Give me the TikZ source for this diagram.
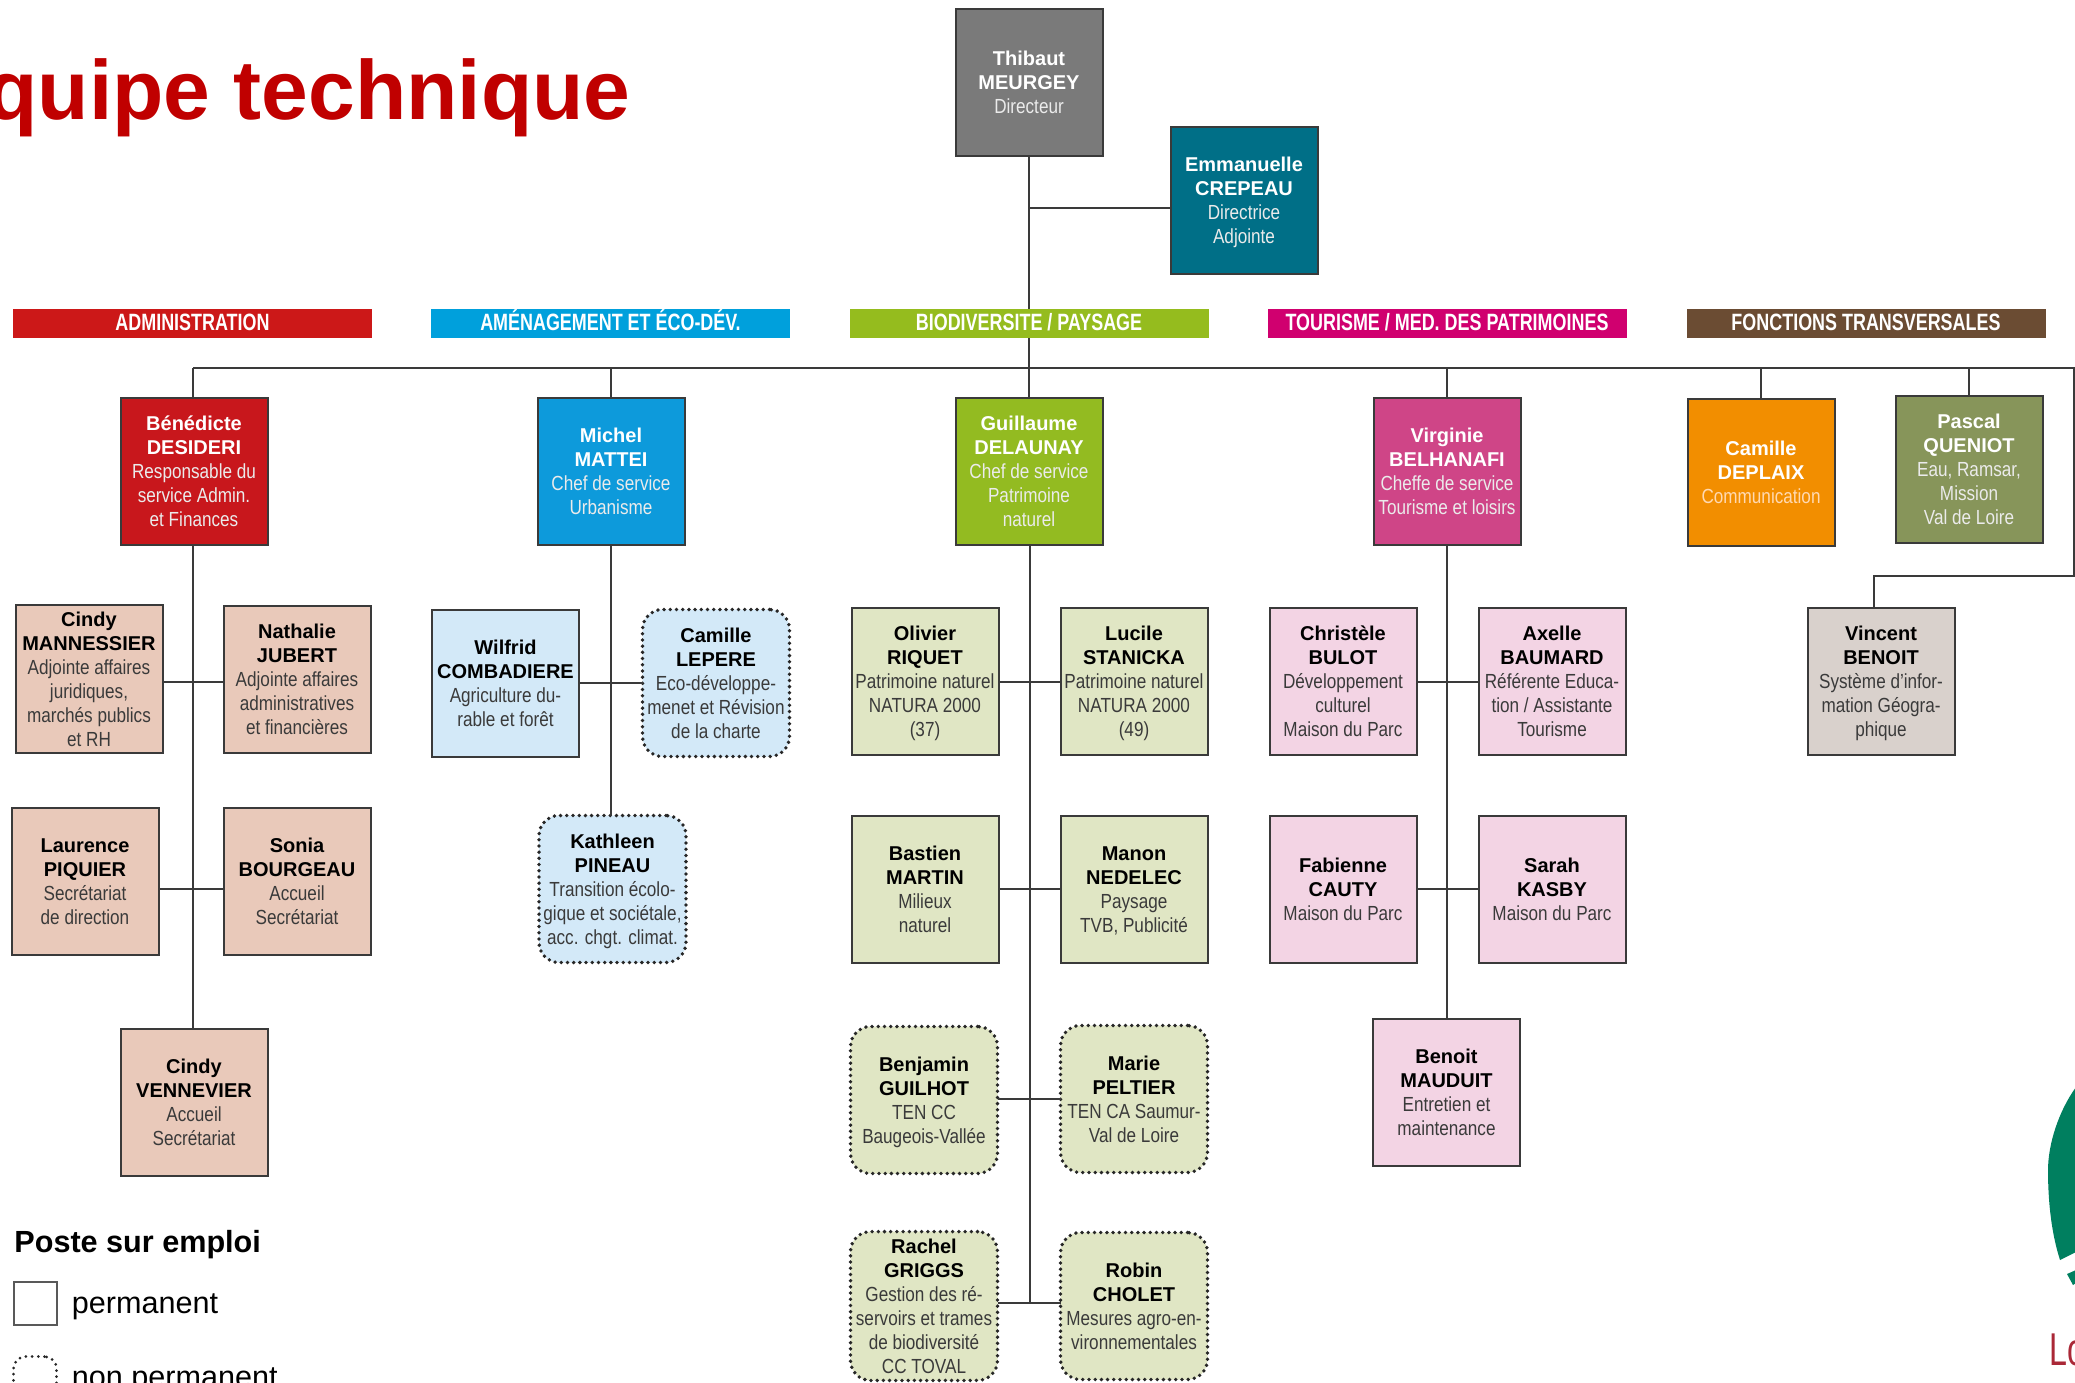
\documentclass[tikz,border=0pt]{standalone}
\usepackage{fontspec}
\setmainfont{Liberation Sans}
\newfontfamily\subf[FakeStretch=.84]{Liberation Sans}
\newfontfamily\banf[FakeStretch=.76]{Liberation Sans Bold}
\newfontfamily\logof[FakeStretch=.7]{Liberation Sans}
\definecolor{inkc}{HTML}{3A3A3A}
\definecolor{subdark}{HTML}{3A3A3A}
\definecolor{salm}{HTML}{E9C9BA}
\definecolor{ltblue}{HTML}{D3E9F8}
\definecolor{ltgreen}{HTML}{E0E6C4}
\definecolor{ltpink}{HTML}{F3D4E4}
\newcommand{\nf}[1]{\rule[-3.6pt]{0pt}{14.4pt}{\bfseries #1}}
\newcommand{\nm}[1]{{\bfseries #1}}
\newcommand{\su}[1]{\rule[-3.6pt]{0pt}{3.6pt}{\subf\fontsize{10.2}{12}\selectfont\color{subdark}#1}}
\newcommand{\sw}[1]{\rule[-3.6pt]{0pt}{3.6pt}{\subf\fontsize{10.2}{12}\selectfont\color{white!92!black}#1}}
\newcommand{\so}[1]{\rule[-3.6pt]{0pt}{3.6pt}{\subf\fontsize{10.2}{12}\selectfont\color{white!70!orange}#1}}
\tikzset{
  bx/.style={draw=inkc,line width=1pt,minimum width=73.5pt,minimum height=73.5pt,inner sep=0pt,outer sep=0pt,align=center,
    font=\fontsize{10}{12}\selectfont,text=black},
  head/.style={bx,text=white},
  dotbx/.style={bx,draw=black!85,line width=1.9pt,line cap=round,dash pattern=on 0pt off 3.1pt,rounded corners=10pt},
  banner/.style={minimum width=179.5pt,minimum height=14.5pt,inner sep=0pt,outer sep=0pt,text=white,
    font=\banf\fontsize{11.8}{12}\selectfont,text height=7.5pt,text depth=0pt},
  conn/.style={draw=inkc,line width=1pt},
}
\begin{document}
\begin{tikzpicture}[x=.5pt,y=-.5pt]
\useasboundingbox (0,0) rectangle (2075,1382);
\clip (0,0) rectangle (2075,1382);
\fill[white] (0,0) rectangle (2075,1382);
% nodes
\node[head,fill=black!52] (thibaut) at (1029,82) {\nf{Thibaut}\\\nm{MEURGEY}\\\sw{Directeur}};
\node[head,fill={rgb,255:red,0;green,111;blue,135}] (emma) at (1244,200) {\nf{Emmanuelle}\\\nm{CREPEAU}\\\sw{Directrice}\\\sw{Adjointe}};
\node[head,fill={rgb,255:red,200;green,23;blue,28}] (bene) at (194,471) {\nf{Bénédicte}\\\nm{DESIDERI}\\\sw{Responsable du}\\\sw{service Admin.}\\\sw{et Finances}};
\node[head,fill={rgb,255:red,13;green,154;blue,219}] (michel) at (611,471) {\nf{Michel}\\\nm{MATTEI}\\\sw{Chef de service}\\\sw{Urbanisme}};
\node[head,fill={rgb,255:red,147;green,187;blue,33}] (guil) at (1029,471) {\nf{Guillaume}\\\nm{DELAUNAY}\\\sw{Chef de service}\\\sw{Patrimoine}\\\sw{naturel}};
\node[head,fill={rgb,255:red,207;green,69;blue,135}] (virg) at (1447,471) {\nf{Virginie}\\\nm{BELHANAFI}\\\sw{Cheffe de service}\\\sw{Tourisme et loisirs}};
\node[head,fill={rgb,255:red,242;green,142;blue,0}] (camd) at (1761,472) {\nf{Camille}\\\nm{DEPLAIX}\\\so{Communication}};
\node[head,fill={rgb,255:red,135;green,149;blue,90}] (pascal) at (1969,469) {\nf{Pascal}\\\nm{QUENIOT}\\\sw{Eau, Ramsar,}\\\sw{Mission}\\\sw{Val de Loire}};
\node[bx,fill={rgb,255:red,217;green,209;blue,204}] (vincent) at (1881,681) {\nf{Vincent}\\\nm{BENOIT}\\\su{Système d’infor-}\\\su{mation Géogra-}\\\su{phique}};
% administration
\node[bx,fill=salm] (cindym) at (89,679) {\nf{Cindy}\\\nm{MANNESSIER}\\\su{Adjointe affaires}\\\su{juridiques,}\\\su{marchés publics}\\\su{et RH}};
\node[bx,fill=salm] (nath) at (297,679) {\nf{Nathalie}\\\nm{JUBERT}\\\su{Adjointe affaires}\\\su{administratives}\\\su{et financières}};
\node[bx,fill=salm] (laur) at (85,881) {\nf{Laurence}\\\nm{PIQUIER}\\\su{Secrétariat}\\\su{de direction}};
\node[bx,fill=salm] (sonia) at (297,881) {\nf{Sonia}\\\nm{BOURGEAU}\\\su{Accueil}\\\su{Secrétariat}};
\node[bx,fill=salm] (cindyv) at (194,1102) {\nf{Cindy}\\\nm{VENNEVIER}\\\su{Accueil}\\\su{Secrétariat}};
% amenagement
\node[bx,fill=ltblue] (wilf) at (505.5,683) {\nf{Wilfrid}\\\nm{COMBADIERE}\\\su{Agriculture du-}\\\su{rable et forêt}};
\node[dotbx,fill=ltblue] (caml) at (716,683) {\nf{Camille}\\\nm{LEPERE}\\\su{Eco-développe-}\\\su{menet et Révision}\\\su{de la charte}};
\node[dotbx,fill=ltblue] (kath) at (612.5,889) {\nf{Kathleen}\\\nm{PINEAU}\\\su{Transition écolo-}\\\su{gique et sociétale,}\\\su{acc. chgt. climat.}};
% biodiversite
\node[bx,fill=ltgreen] (oliv) at (925,681.5) {\nf{Olivier}\\\nm{RIQUET}\\\su{Patrimoine naturel}\\\su{NATURA 2000}\\\su{(37)}};
\node[bx,fill=ltgreen] (luci) at (1134,681.5) {\nf{Lucile}\\\nm{STANICKA}\\\su{Patrimoine naturel}\\\su{NATURA 2000}\\\su{(49)}};
\node[bx,fill=ltgreen] (bast) at (925,889) {\nf{Bastien}\\\nm{MARTIN}\\\su{Milieux}\\\su{naturel}};
\node[bx,fill=ltgreen] (mano) at (1134,889) {\nf{Manon}\\\nm{NEDELEC}\\\su{Paysage}\\\su{TVB, Publicité}};
\node[dotbx,fill=ltgreen] (benj) at (924,1100) {\nf{Benjamin}\\\nm{GUILHOT}\\\su{TEN CC}\\\su{Baugeois-Vallée}};
\node[dotbx,fill=ltgreen] (marie) at (1134,1099) {\nf{Marie}\\\nm{PELTIER}\\\su{TEN CA Saumur-}\\\su{Val de Loire}};
\node[dotbx,fill=ltgreen] (rach) at (924,1306) {\nf{Rachel}\\\nm{GRIGGS}\\\su{Gestion des ré-}\\\su{servoirs et trames}\\\su{de biodiversité}\\\su{CC TOVAL}};
\node[dotbx,fill=ltgreen] (robin) at (1134,1306) {\nf{Robin}\\\nm{CHOLET}\\\su{Mesures agro-en-}\\\su{vironnementales}};
% tourisme
\node[bx,fill=ltpink] (chris) at (1343,681.5) {\nf{Christèle}\\\nm{BULOT}\\\su{Développement}\\\su{culturel}\\\su{Maison du Parc}};
\node[bx,fill=ltpink] (axel) at (1552,681.5) {\nf{Axelle}\\\nm{BAUMARD}\\\su{Référente Educa-}\\\su{tion / Assistante}\\\su{Tourisme}};
\node[bx,fill=ltpink] (fabi) at (1343,889) {\nf{Fabienne}\\\nm{CAUTY}\\\su{Maison du Parc}};
\node[bx,fill=ltpink] (sarah) at (1552,889) {\nf{Sarah}\\\nm{KASBY}\\\su{Maison du Parc}};
\node[bx,fill=ltpink] (benoit) at (1446.5,1092) {\nf{Benoit}\\\nm{MAUDUIT}\\\su{Entretien et}\\\su{maintenance}};
% bus coordinates
\coordinate (busl) at (193,368);
\coordinate (busr) at (2074,368);
\coordinate (turn) at (2074,576);
% connectors
\draw[conn] (thibaut.south) -- (guil.north);
\draw[conn] (thibaut.south |- emma.west) ++(0,8) coordinate (ej) (ej) -- (emma.west |- ej);
\draw[conn] (busl) -- (busr) -- (turn) -- ([xshift=-3.5pt]vincent.north |- turn) -- ([xshift=-3.5pt]vincent.north);
\draw[conn] ([xshift=-.5pt]bene.north |- busl) -- ([xshift=-.5pt]bene.north);
\draw[conn] (michel.north |- busl) -- (michel.north);
\draw[conn] (virg.north |- busl) -- (virg.north);
\draw[conn] (camd.north |- busl) -- (camd.north);
\draw[conn] (pascal.north |- busl) -- (pascal.north);
\draw[conn] ([xshift=-.5pt]bene.south) -- ([xshift=-.5pt]cindyv.north);
\draw[conn] ([yshift=-1.5pt]cindym.east) -- ([yshift=-1.5pt]nath.west);
\draw[conn] ([yshift=-4pt]laur.east |- sonia.west) -- ([yshift=-4pt]sonia.west);
\draw[conn] (michel.south) -- (michel.south |- kath.north);
\draw[conn] (wilf.east) -- (caml.west);
\draw[conn] ([xshift=.5pt]guil.south) -- ([xshift=.5pt,yshift=1.5pt]guil.south |- rach.east);
\draw[conn] (oliv.east) -- (luci.west);
\draw[conn] (bast.east) -- (mano.west);
\draw[conn] (benj.east |- marie.west) -- (marie.west);
\draw[conn] ([yshift=1.5pt]rach.east) -- ([yshift=1.5pt]robin.west);
\draw[conn] (virg.south) -- (virg.south |- benoit.north);
\draw[conn] (chris.east) -- (axel.west);
\draw[conn] (fabi.east) -- (sarah.west);
% banners
\node[banner,fill={rgb,255:red,204;green,24;blue,24}] (b1) at (192.5,323) {ADMINISTRATION};
\node[banner,fill={rgb,255:red,0;green,160;blue,220}] (b2) at (610.5,323) {AMÉNAGEMENT ET ÉCO-DÉV.};
\node[banner,fill={rgb,255:red,149;green,188;blue,30}] (b3) at (1029,323) {BIODIVERSITE / PAYSAGE};
\node[banner,fill={rgb,255:red,208;green,0;blue,111}] (b4) at (1447,323) {TOURISME / MED. DES PATRIMOINES};
\node[banner,fill={rgb,255:red,107;green,76;blue,51}] (b5) at (1866,323) {FONCTIONS TRANSVERSALES};
% title
\node[anchor=base east,inner sep=0pt,text={rgb,255:red,192;green,0;blue,0},font=\bfseries\fontsize{42}{50}\selectfont] (title) at (631,119) {Équipe technique};
% legend
\node[anchor=base west,inner sep=0pt,font=\bfseries\fontsize{15.3}{18}\selectfont] (lt) at (14,1252) {Poste sur emploi};
\node[draw=black!65,line width=1pt,minimum width=21.5pt,minimum height=21.5pt,inner sep=0pt,outer sep=0pt] (lp) at (35,1303.5) {};
\node[anchor=base west,inner sep=0pt,font=\fontsize{15.3}{18}\selectfont] (ltp) at (71.5,1313) {permanent};
\node[draw=black!85,line width=1.5pt,line cap=round,dash pattern=on 0pt off 3.1pt,rounded corners=6pt,minimum width=21.5pt,minimum height=21.5pt,inner sep=0pt,outer sep=0pt] (ln) at (35,1378) {};
\node[anchor=base west,inner sep=0pt,font=\fontsize{15.3}{18}\selectfont] (ltn) at (71.5,1387) {non permanent};
% logo
\fill[fill={rgb,255:red,0;green,127;blue,95}] (2076,1087) .. controls (2058,1112) and (2048,1145) .. (2048,1170) .. controls (2048,1205) and (2052,1235) .. (2060,1260) -- (2076,1252) -- cycle;
\fill[fill={rgb,255:red,0;green,127;blue,95}] (2067,1274) -- (2076,1270) -- (2076,1283) -- (2073,1285) -- cycle;
\node[anchor=base west,inner sep=0pt,text={rgb,255:red,170;green,40;blue,55},font=\logof\fontsize{23}{24}\selectfont] (logo) at (2049,1365) {Lo};
\end{tikzpicture}
\end{document}
